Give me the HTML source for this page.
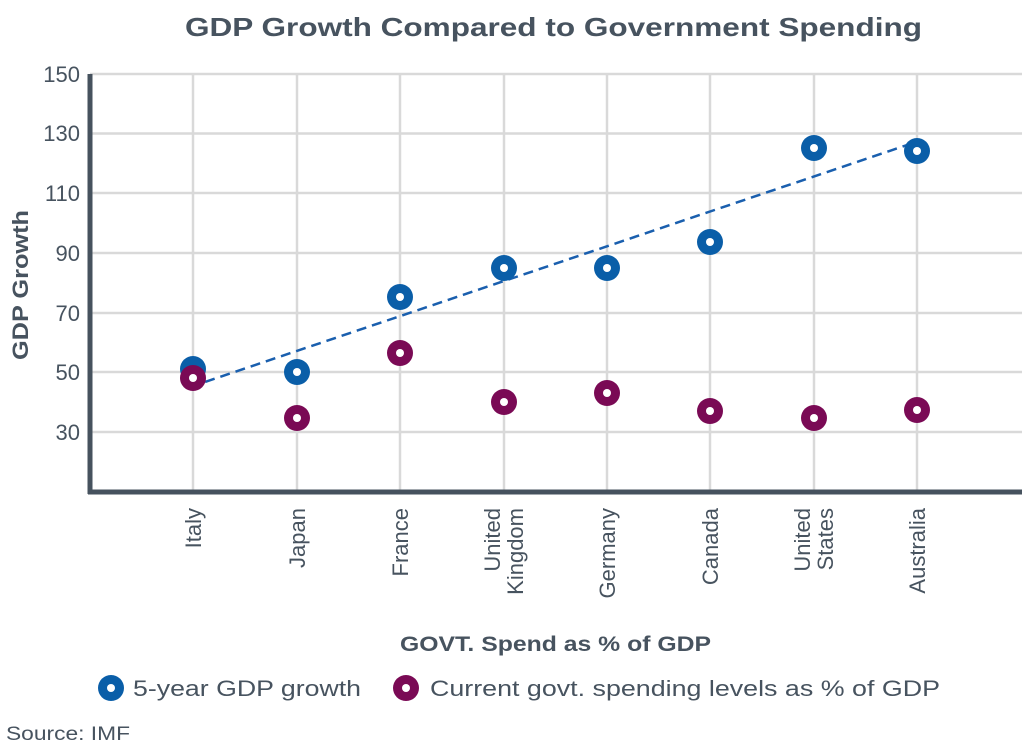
<!DOCTYPE html>
<html><head><meta charset="utf-8"><style>
body{margin:0;background:#fff}
svg{display:block}
text{font-family:"Liberation Sans",sans-serif;fill:#47535f}
</style></head><body>
<svg width="1024" height="748" viewBox="0 0 1024 748">
<text x="185" y="36" font-size="26" font-weight="bold" textLength="737" lengthAdjust="spacingAndGlyphs">GDP Growth Compared to Government Spending</text>
<g stroke="#d9d9d9" stroke-width="2.5">
<line x1="90" y1="74" x2="1022" y2="74"/><line x1="90" y1="133.5" x2="1022" y2="133.5"/>
<line x1="90" y1="193" x2="1022" y2="193"/><line x1="90" y1="253" x2="1022" y2="253"/>
<line x1="90" y1="313" x2="1022" y2="313"/><line x1="90" y1="372" x2="1022" y2="372"/>
<line x1="90" y1="432" x2="1022" y2="432"/>
<line x1="193" y1="74" x2="193" y2="492"/><line x1="297" y1="74" x2="297" y2="492"/>
<line x1="400" y1="74" x2="400" y2="492"/><line x1="504" y1="74" x2="504" y2="492"/>
<line x1="607" y1="74" x2="607" y2="492"/><line x1="710" y1="74" x2="710" y2="492"/>
<line x1="814" y1="74" x2="814" y2="492"/><line x1="917" y1="74" x2="917" y2="492"/>
</g>
<line x1="90" y1="74" x2="90" y2="494" stroke="#46525e" stroke-width="5"/>
<line x1="88" y1="492" x2="1022" y2="492" stroke="#46525e" stroke-width="5"/>
<g font-size="22" text-anchor="end" fill="#5a6570">
<text x="80" y="82">150</text><text x="80" y="141">130</text><text x="80" y="201">110</text>
<text x="80" y="261">90</text><text x="80" y="321">70</text><text x="80" y="380">50</text><text x="80" y="440">30</text>
</g>
<text transform="translate(28,285) rotate(-90)" text-anchor="middle" font-size="22" font-weight="bold" textLength="150" lengthAdjust="spacingAndGlyphs">GDP Growth</text>
<g font-size="22" text-anchor="end">
<text transform="translate(201,508) rotate(-90)">Italy</text>
<text transform="translate(305,508) rotate(-90)">Japan</text>
<text transform="translate(408,508) rotate(-90)">France</text>
<text transform="translate(500,508) rotate(-90)">United</text>
<text transform="translate(523,508) rotate(-90)">Kingdom</text>
<text transform="translate(615,508) rotate(-90)">Germany</text>
<text transform="translate(718,508) rotate(-90)">Canada</text>
<text transform="translate(810,508) rotate(-90)">United</text>
<text transform="translate(833,508) rotate(-90)">States</text>
<text transform="translate(925,508) rotate(-90)">Australia</text>
</g>
<text x="400" y="651" font-size="21" font-weight="bold" textLength="311" lengthAdjust="spacingAndGlyphs">GOVT. Spend as % of GDP</text>
<line x1="190" y1="387" x2="922" y2="140" stroke="#1a5fae" stroke-width="2.5" stroke-dasharray="10,6"/>
<g fill="#0a5ea8">
<circle cx="193" cy="369" r="13"/><circle cx="297" cy="372" r="13"/><circle cx="400" cy="297" r="13"/>
<circle cx="504" cy="268" r="13"/><circle cx="607" cy="268" r="13"/><circle cx="710" cy="242" r="13"/>
<circle cx="814" cy="148" r="13"/><circle cx="917" cy="151" r="13"/>
</g>
<g fill="#fff">
<circle cx="297" cy="372" r="4"/><circle cx="400" cy="297" r="4"/>
<circle cx="504" cy="268" r="4"/><circle cx="607" cy="268" r="4"/><circle cx="710" cy="242" r="4"/>
<circle cx="814" cy="148" r="4"/><circle cx="917" cy="151" r="4"/>
</g>
<g fill="#7a0a55">
<circle cx="193" cy="378" r="13"/><circle cx="297" cy="418" r="13"/><circle cx="400" cy="353" r="13"/>
<circle cx="504" cy="402" r="13"/><circle cx="607" cy="393" r="13"/><circle cx="710" cy="411" r="13"/>
<circle cx="814" cy="418" r="13"/><circle cx="917" cy="410" r="13"/>
</g>
<g fill="#fff">
<circle cx="193" cy="378" r="4"/><circle cx="297" cy="418" r="4"/><circle cx="400" cy="353" r="4"/>
<circle cx="504" cy="402" r="4"/><circle cx="607" cy="393" r="4"/><circle cx="710" cy="411" r="4"/>
<circle cx="814" cy="418" r="4"/><circle cx="917" cy="410" r="4"/>
</g>
<circle cx="111" cy="688" r="13" fill="#0a5ea8"/><circle cx="111" cy="688" r="4" fill="#fff"/>
<text x="133" y="696" font-size="22" textLength="228" lengthAdjust="spacingAndGlyphs">5-year GDP growth</text>
<circle cx="406" cy="688" r="13" fill="#7a0a55"/><circle cx="406" cy="688" r="4" fill="#fff"/>
<text x="430" y="696" font-size="22" textLength="510" lengthAdjust="spacingAndGlyphs">Current govt. spending levels as % of GDP</text>
<text x="6" y="740" font-size="19" fill="#5d6670" textLength="124" lengthAdjust="spacingAndGlyphs">Source:  IMF</text>
</svg>
</body></html>
